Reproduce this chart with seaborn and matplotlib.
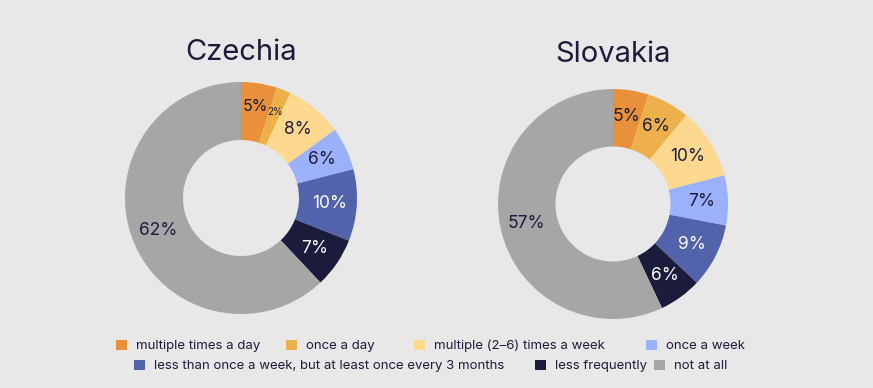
import matplotlib
matplotlib.use("Agg")
import matplotlib.pyplot as plt
import matplotlib.patches as mpatches
import seaborn as sns

categories = ["multiple times a day", "once a day", "multiple (2\u20136) times a week",
              "once a week", "less than once a week, but at least once every 3 months",
              "less frequently", "not at all"]
countries = ["Czechia", "Slovakia"]
czechia = [5, 2, 8, 6, 10, 7, 62]
slovakia = [5, 6, 10, 7, 9, 6, 57]

colors = ["#e9913a", "#eeb04b", "#fdd98f", "#9cb1fb", "#5262ab", "#1b1b3b", "#a6a6a6"]
label_colors = ["#1b1b3b", "#1b1b3b", "#1b1b3b", "#1b1b3b", "white", "white", "#1b1b3b"]
bg = "#e8e8e8"

sns.set_theme(style="white")
plt.rcParams['font.family'] = ['Inter', 'DejaVu Sans']

W, H = 873, 388
fig = plt.figure(figsize=(W / 100, H / 100), dpi=100, facecolor=bg)

centers = [(241, 198, 116), (613, 204, 115)]
title_y = [52, 55]
for ci, (name, vals) in enumerate(zip(countries, [czechia, slovakia])):
    cx, cy, R = centers[ci]
    ax = fig.add_axes([(cx - R) / W, (H - cy - R) / H, 2 * R / W, 2 * R / H])
    ax.set_facecolor(bg)
    wedges, texts = ax.pie(vals, colors=colors, startangle=90, counterclock=False,
                           radius=1.0, wedgeprops=dict(width=0.5, linewidth=0),
                           labels=[f"{v}%" for v in vals], labeldistance=0.77)
    crowded = ci == 0
    for t, v, c in zip(texts, vals, label_colors):
        t.set_ha("center"); t.set_va("center")
        t.set_color(c)
        size = 12.5
        if crowded and v <= 5:
            size = 7 if v <= 2 else 11.5
            x, y = t.get_position()
            t.set_position((x * 0.80 / 0.77, y * 0.80 / 0.77))
        t.set_fontsize(size)
    ax.set_xlim(-1, 1); ax.set_ylim(-1, 1)
    ax.set_aspect("equal")
    ax.axis("off")
    fig.text(cx / W, 1 - title_y[ci] / H, name, ha="center", va="center",
             fontsize=21, color="#1b1b3b")

# legend entries: left x of the square (px), row y (px)
legend_pos = [(116, 346), (286, 346), (414, 346), (646, 346),
              (134, 366), (535, 366), (654, 366)]
for cat, col, (lx, ly) in zip(categories, colors, legend_pos):
    h = mpatches.Patch(facecolor=col, edgecolor="none")
    fig.legend([h], [cat], frameon=False, fontsize=9.5, handlelength=0.83,
               handleheight=0.83, handletextpad=0.72, borderpad=0, borderaxespad=0,
               labelcolor="#1b1b3b", loc="center left",
               bbox_to_anchor=(lx / W, 1 - ly / H))

fig.savefig("out.png", dpi=100, facecolor=bg)
